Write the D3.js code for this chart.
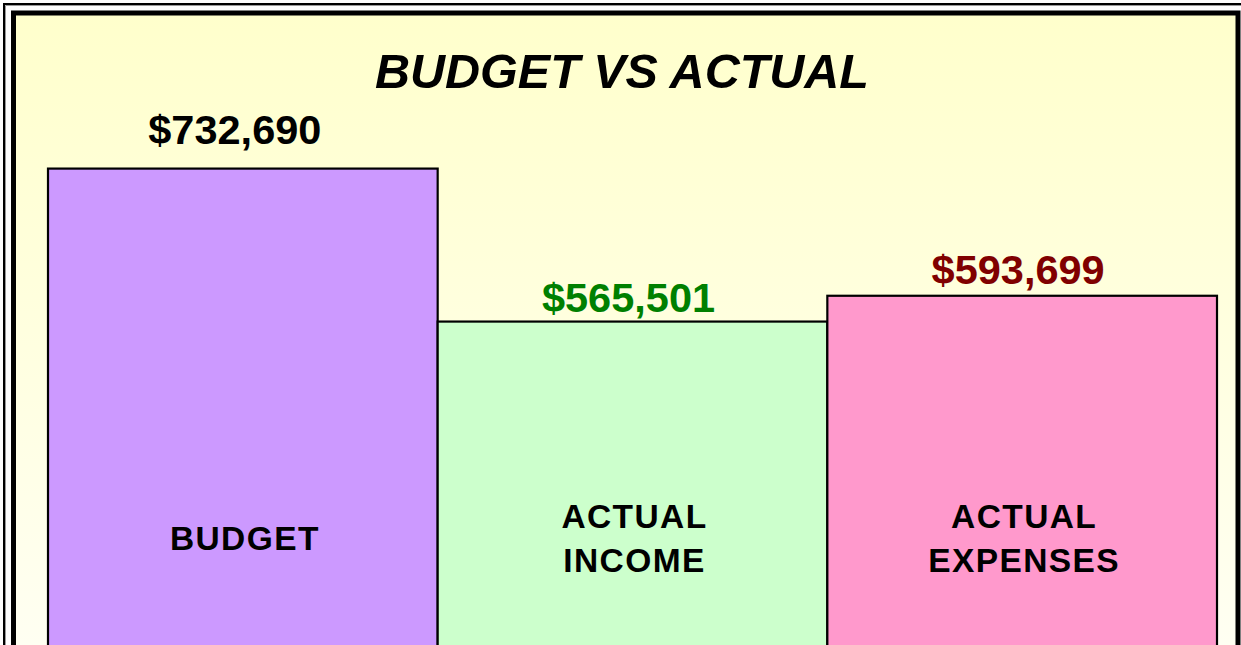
<!DOCTYPE html>
<html>
<head>
<meta charset="utf-8">
<script src="https://cdn.jsdelivr.net/npm/d3@7"></script>
<style>
  html, body { margin: 0; padding: 0; background: #ffffff; overflow: hidden; }
  svg { display: block; }
  text { font-family: "Liberation Sans", Arial, sans-serif; font-weight: bold; }
</style>
</head>
<body>
<script>
// ---- data ----
const categories = ["BUDGET", "ACTUAL INCOME", "ACTUAL EXPENSES"];
const values = [732690, 565501, 593699];
const valueLabels = ["$732,690", "$565,501", "$593,699"];
const barColors = ["#CC99FF", "#CCFFCC", "#FF99CC"];
const labelColors = ["#000000", "#008000", "#800000"];
const title = "BUDGET VS ACTUAL";

const W = 1241, H = 645;
const svg = d3.select("body").append("svg").attr("width", W).attr("height", H);

// background gradient
const defs = svg.append("defs");
const grad = defs.append("linearGradient").attr("id", "bg")
  .attr("gradientUnits", "userSpaceOnUse")
  .attr("x1", 0).attr("y1", 16).attr("x2", 0).attr("y2", 860);
grad.append("stop").attr("offset", "0%").attr("stop-color", "#FFFFCC");
grad.append("stop").attr("offset", "100%").attr("stop-color", "#FFFFFF");

// outer frame
svg.append("rect").attr("x", 4).attr("y", 4).attr("width", 1250).attr("height", 700)
  .attr("fill", "#ffffff").attr("stroke", "#000").attr("stroke-width", 2);
svg.append("line").attr("x1", 5.5).attr("y1", 5.5).attr("x2", 1250).attr("y2", 5.5)
  .attr("stroke", "#999").attr("stroke-width", 1);
svg.append("line").attr("x1", 5.5).attr("y1", 5.5).attr("x2", 5.5).attr("y2", 700)
  .attr("stroke", "#999").attr("stroke-width", 1);
// inner plot frame
svg.append("rect").attr("x", 13.5).attr("y", 13).attr("width", 1224.5).attr("height", 700)
  .attr("fill", "url(#bg)").attr("stroke", "#000").attr("stroke-width", 5);

// scales
const x = d3.scaleBand().domain(categories).range([48, 1217]).paddingInner(0).paddingOuter(0);
const y = d3.scaleLinear().domain([0, 800000]).range([839, 107]);

// bars
svg.append("g").selectAll("rect").data(categories).join("rect")
  .attr("x", d => x(d))
  .attr("y", (d, i) => y(values[i]))
  .attr("width", x.bandwidth())
  .attr("height", (d, i) => y(0) - y(values[i]))
  .attr("fill", (d, i) => barColors[i])
  .attr("stroke", "#000").attr("stroke-width", 2.2);

// title
svg.append("text").attr("x", 622).attr("y", 88)
  .attr("text-anchor", "middle").attr("font-size", 48.5).attr("font-style", "italic")
  .text(title);

// value labels
const labelGap = [25, 10, 12];
const labelDx = [-8, -4, -4];
svg.append("g").selectAll("text").data(categories).join("text")
  .attr("x", (d, i) => x(d) + x.bandwidth() / 2 + labelDx[i])
  .attr("y", (d, i) => y(values[i]) - labelGap[i])
  .attr("text-anchor", "middle").attr("font-size", 41.5)
  .attr("fill", (d, i) => labelColors[i])
  .text((d, i) => valueLabels[i]);

// category labels inside bars
const catG = svg.append("g");
categories.forEach((c, i) => {
  const words = c.split(" ");
  const lines = words.length > 1 ? [words[0], words.slice(1).join(" ")] : [c];
  const lh = 44;
  const cy = 538;
  const t = catG.append("text")
    .attr("text-anchor", "middle").attr("font-size", 33.5).attr("fill", "#000")
    .attr("letter-spacing", 1.4);
  lines.forEach((ln, j) => {
    t.append("tspan")
      .attr("x", x(c) + x.bandwidth() / 2 + 2)
      .attr("y", cy + 12 + (j - (lines.length - 1) / 2) * lh)
      .text(ln);
  });
});
</script>
</body>
</html>
